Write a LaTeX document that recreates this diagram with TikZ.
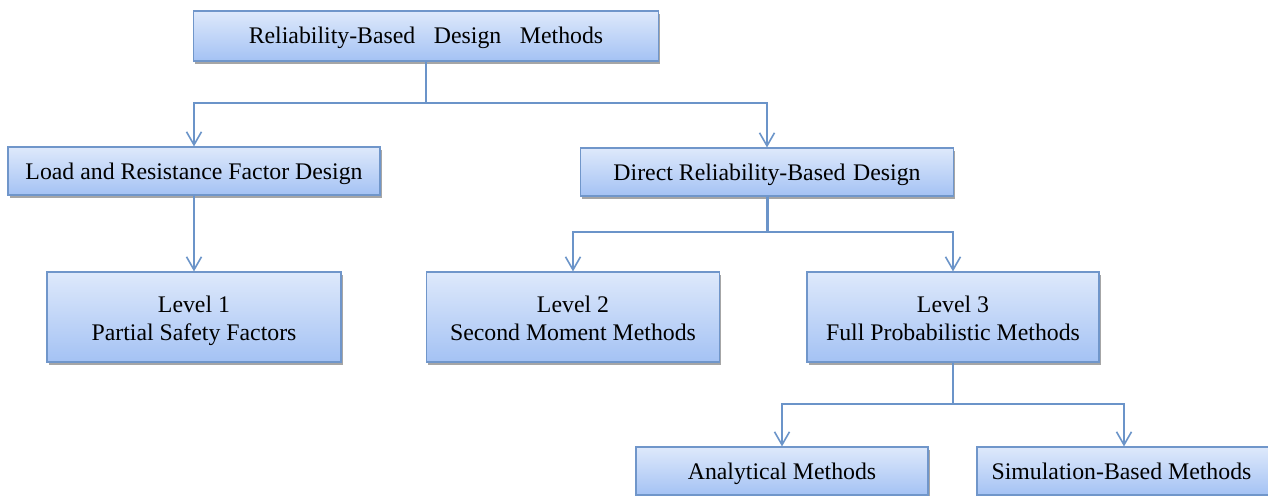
\documentclass[tikz,border=0pt]{standalone}
\usepackage{fontspec}
\setmainfont{Liberation Serif}
\usetikzlibrary{arrows.meta,shadows}
\definecolor{linec}{HTML}{6B94C9}
\definecolor{borderc}{HTML}{7096CA}
\definecolor{filltop}{HTML}{DEE9FB}
\definecolor{fillbot}{HTML}{A4C2F4}
\newcommand{\wsp}{\hspace{0.78em}}
\tikzset{
  box/.style={rectangle, draw=borderc, line width=1.2pt, top color=filltop, bottom color=fillbot,
    drop shadow={shadow xshift=1.5pt, shadow yshift=-3pt, fill=black, opacity=0.35},
    align=center, inner sep=0pt, font=\fontsize{23.8}{28}\selectfont, text=black},
  onebox/.style={box, text height=16pt, text depth=0pt},
  twobox/.style={box, text height=46pt, text depth=0pt},
  conn/.style={draw=linec, line width=1.6pt},
  thick conn/.style={draw=linec, line width=3pt},
  arr/.style={conn, -{Straight Barb[length=13pt,width=15pt,line width=1.6pt]}},
}
\begin{document}
\begin{tikzpicture}[x=1pt,y=-1pt]
\useasboundingbox (0,0) rectangle (1268,495);
\clip (0,0) rectangle (1268,495);
\fill[white] (0,0) rectangle (1268,495);
% boxes
\node[onebox, minimum width=465pt, minimum height=50pt] (top) at (426,36) {Reliability-Based\wsp Design\wsp Methods};
\node[onebox, minimum width=372pt, minimum height=48pt] (lrfd) at (194,171) {Load and Resistance Factor Design};
\node[onebox, minimum width=373pt, minimum height=48pt] (drbd) at (767,172) {Direct Reliability-Based\hspace{0.32em}Design};
\node[twobox, minimum width=294pt, minimum height=90pt] (l1) at (194,317) {Level 1\\Partial Safety Factors};
\node[twobox, minimum width=293pt, minimum height=90pt] (l2) at (573,317) {Level 2\\Second Moment Methods};
\node[twobox, minimum width=292pt, minimum height=90pt] (l3) at (953,317) {Level 3\\Full Probabilistic Methods};
\node[onebox, minimum width=292pt, minimum height=48pt] (ana) at (782,471) {Analytical Methods};
\node[onebox, minimum width=294pt, minimum height=48pt] (sim) at (1124,471) {\hspace{-5pt}Simulation-Based Methods};
% junctions
\coordinate (j1) at (426,103);
\coordinate (j2) at (767,232);
\coordinate (j3) at (953,404);
% connectors
\draw[conn] (top.south) -- (j1);
\draw[arr] (j1) -| (lrfd.north);
\draw[arr] (j1) -| (drbd.north);
\draw[arr] (lrfd.south) -- (l1.north);
\draw[thick conn] (drbd.south) -- (j2);
\draw[arr] (j2) -| (l2.north);
\draw[arr] (j2) -| (l3.north);
\draw[conn] (l3.south) -- (j3);
\draw[arr] (j3) -| (ana.north);
\draw[arr] (j3) -| (sim.north);
\end{tikzpicture}
\end{document}
